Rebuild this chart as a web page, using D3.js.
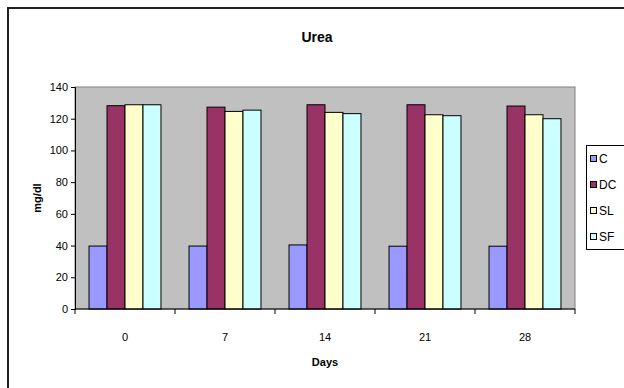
<!DOCTYPE html>
<html><head><meta charset="utf-8">
<script src="https://cdn.jsdelivr.net/npm/d3@7"></script>
<style>body{margin:0;background:#fff}svg{display:block;font-family:"Liberation Sans",Arial,sans-serif}</style>
</head><body>
<svg id="c" width="624" height="388"></svg>
<script>
const days = ["0", "7", "14", "21", "28"];
const seriesNames = ["C", "DC", "SL", "SF"];
const C  = [39.7, 39.7, 40.4, 39.6, 39.6];
const DC = [128.2, 127.3, 128.8, 128.8, 128.0];
const SL = [128.8, 124.6, 124.0, 122.5, 122.5];
const SF = [128.8, 125.4, 123.2, 121.9, 120.0];
const yTicks = [0, 20, 40, 60, 80, 100, 120, 140];
const colors = ["#9999FF", "#993366", "#FFFFCC", "#CCFFFF"];

const series = [C, DC, SL, SF];
const svg = d3.select("#c");
const L = 75, R = 575, T = 87, B = 309;

svg.append("rect").attr("x", 8).attr("y", 8).attr("width", 700).attr("height", 500)
  .attr("fill", "#fff").attr("stroke", "#222").attr("stroke-width", 2);

const x = d3.scaleBand().domain(days).range([L, R]).paddingInner(0).paddingOuter(0);
const x1 = d3.scaleBand().domain(seriesNames).range([0, x.bandwidth()]).paddingInner(0).paddingOuter(0.78);
const y = d3.scaleLinear().domain([0, 140]).range([B, T]);

svg.append("rect").attr("x", L).attr("y", T).attr("width", R - L).attr("height", B - T)
  .attr("fill", "#C0C0C0").attr("stroke", "#808080").attr("stroke-width", 1);

const g = svg.append("g");
days.forEach((d, i) => {
  seriesNames.forEach((s, j) => {
    const v = series[j][i];
    g.append("rect")
      .attr("x", x(d) + x1(s)).attr("y", y(v))
      .attr("width", x1.bandwidth()).attr("height", y(0) - y(v))
      .attr("fill", colors[j]).attr("stroke", "#000").attr("stroke-width", 1);
  });
});

// y axis
const ya = svg.append("g").attr("transform", `translate(${L},0)`)
  .call(d3.axisLeft(y).tickValues(yTicks).tickSize(4).tickPadding(3));
ya.select(".domain").attr("stroke", "#000");
ya.selectAll("text").attr("font-size", 11).attr("fill", "#000").attr("font-family", "Liberation Sans, Arial, sans-serif");

// x axis
const xa = svg.append("g").attr("transform", `translate(0,${B})`);
xa.append("line").attr("x1", L).attr("x2", R).attr("y1", 0).attr("y2", 0).attr("stroke", "#000");
const bounds = days.map(d => x(d)).concat([R]);
xa.selectAll("line.tk").data(bounds).enter().append("line")
  .attr("x1", d => d).attr("x2", d => d).attr("y1", 0).attr("y2", 5).attr("stroke", "#000");
xa.selectAll("text").data(days).enter().append("text")
  .attr("x", d => x(d) + x.bandwidth() / 2).attr("y", 32)
  .attr("text-anchor", "middle").attr("font-size", 11).text(d => d);

svg.append("text").attr("x", 317).attr("y", 42).attr("text-anchor", "middle")
  .attr("font-size", 14).attr("font-weight", "bold").text("Urea");
svg.append("text").attr("x", 325).attr("y", 366).attr("text-anchor", "middle")
  .attr("font-size", 11).attr("font-weight", "bold").text("Days");
svg.append("text").attr("transform", "translate(41,198) rotate(-90)").attr("text-anchor", "middle")
  .attr("font-size", 11).attr("font-weight", "bold").text("mg/dl");

// legend
const lg = svg.append("g");
lg.append("rect").attr("x", 586.5).attr("y", 145.5).attr("width", 40).attr("height", 104)
  .attr("fill", "#fff").attr("stroke", "#000");
seriesNames.forEach((s, j) => {
  const cy = 159 + j * 26;
  lg.append("rect").attr("x", 590.5).attr("y", cy - 3.5).attr("width", 6).attr("height", 6)
    .attr("fill", colors[j]).attr("stroke", "#000");
  lg.append("text").attr("x", 599).attr("y", cy + 4).attr("font-size", 12).text(s);
});
</script>
</body></html>
